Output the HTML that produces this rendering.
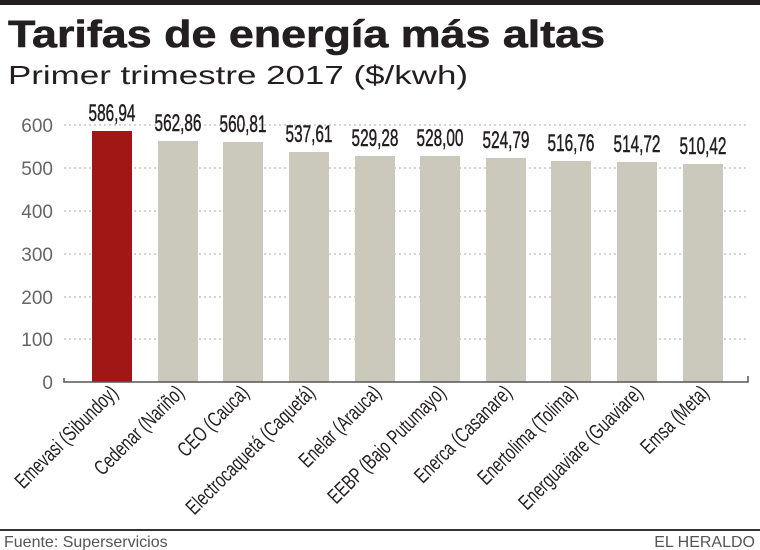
<!DOCTYPE html>
<html><head><meta charset="utf-8"><style>
html,body{margin:0;padding:0;background:#fff;}
svg{display:block;}
</style></head><body>
<svg width="760" height="550" xmlns="http://www.w3.org/2000/svg" font-family="Liberation Sans,sans-serif">
<rect x="0" y="0" width="760" height="5" fill="#231f20"/>
<text x="8" y="47" font-weight="bold" font-size="38" fill="#231f20" textLength="597" lengthAdjust="spacingAndGlyphs" stroke="#231f20" stroke-width="0.6">Tarifas de energía más altas</text>
<text x="8" y="84" font-size="26" fill="#231f20" textLength="460" lengthAdjust="spacingAndGlyphs">Primer trimestre 2017 ($/kwh)</text>
<g stroke="#aaa" stroke-dasharray="2,3" stroke-width="1">
<line x1="64" y1="125" x2="748" y2="125"/><line x1="64" y1="168" x2="748" y2="168"/>
<line x1="64" y1="211" x2="748" y2="211"/><line x1="64" y1="254" x2="748" y2="254"/>
<line x1="64" y1="297" x2="748" y2="297"/><line x1="64" y1="339" x2="748" y2="339"/>
</g>
<g font-size="19" fill="#666" text-anchor="end">
<text x="53" y="132">600</text><text x="53" y="175">500</text><text x="53" y="218">400</text>
<text x="53" y="261">300</text><text x="53" y="304">200</text><text x="53" y="346">100</text><text x="53" y="389">0</text>
</g>
<g fill="#cbc9bb">
<rect x="92" y="131" width="40" height="251" fill="#a11715"/>
<rect x="158" y="141" width="40" height="241"/>
<rect x="223" y="142" width="40" height="240"/>
<rect x="289" y="152" width="40" height="230"/>
<rect x="355" y="156" width="40" height="226"/>
<rect x="420" y="156" width="40" height="226"/>
<rect x="486" y="158" width="40" height="224"/>
<rect x="551" y="161" width="40" height="221"/>
<rect x="617" y="162" width="40" height="220"/>
<rect x="683" y="164" width="40" height="218"/>
</g>
<path d="M64 378 V382 H748 V376" fill="none" stroke="#555" stroke-width="1.5"/>
<g font-size="24" fill="#231f20" text-anchor="middle" stroke="#231f20" stroke-width="0.5">
<text transform="translate(112,121) scale(0.64,1)">586,94</text>
<text transform="translate(178,131) scale(0.64,1)">562,86</text>
<text transform="translate(243,132) scale(0.64,1)">560,81</text>
<text transform="translate(309,142) scale(0.64,1)">537,61</text>
<text transform="translate(375,146) scale(0.64,1)">529,28</text>
<text transform="translate(440,146) scale(0.64,1)">528,00</text>
<text transform="translate(506,148) scale(0.64,1)">524,79</text>
<text transform="translate(571,151) scale(0.64,1)">516,76</text>
<text transform="translate(637,152) scale(0.64,1)">514,72</text>
<text transform="translate(703,154) scale(0.64,1)">510,42</text>
</g>
<g font-size="21" fill="#231f20" text-anchor="end">
<text transform="translate(119,394) rotate(-45) scale(0.72,1)">Emevasi (Sibundoy)</text>
<text transform="translate(185,394) rotate(-45) scale(0.72,1)">Cedenar (Nariño)</text>
<text transform="translate(250,394) rotate(-45) scale(0.72,1)">CEO (Cauca)</text>
<text transform="translate(316,394) rotate(-45) scale(0.72,1)">Electrocaquetá (Caquetá)</text>
<text transform="translate(382,394) rotate(-45) scale(0.72,1)">Enelar (Arauca)</text>
<text transform="translate(447,394) rotate(-45) scale(0.72,1)">EEBP (Bajo Putumayo)</text>
<text transform="translate(513,394) rotate(-45) scale(0.72,1)">Enerca (Casanare)</text>
<text transform="translate(578,394) rotate(-45) scale(0.72,1)">Enertolima (Tolima)</text>
<text transform="translate(644,394) rotate(-45) scale(0.72,1)">Energuaviare (Guaviare)</text>
<text transform="translate(710,394) rotate(-45) scale(0.72,1)">Emsa (Meta)</text>
</g>
<rect x="0" y="529" width="760" height="2" fill="#333"/>
<text x="4" y="547" font-size="16" fill="#555">Fuente: Superservicios</text>
<text x="755" y="547" font-size="16" fill="#555" text-anchor="end">EL HERALDO</text>
</svg>
</body></html>
